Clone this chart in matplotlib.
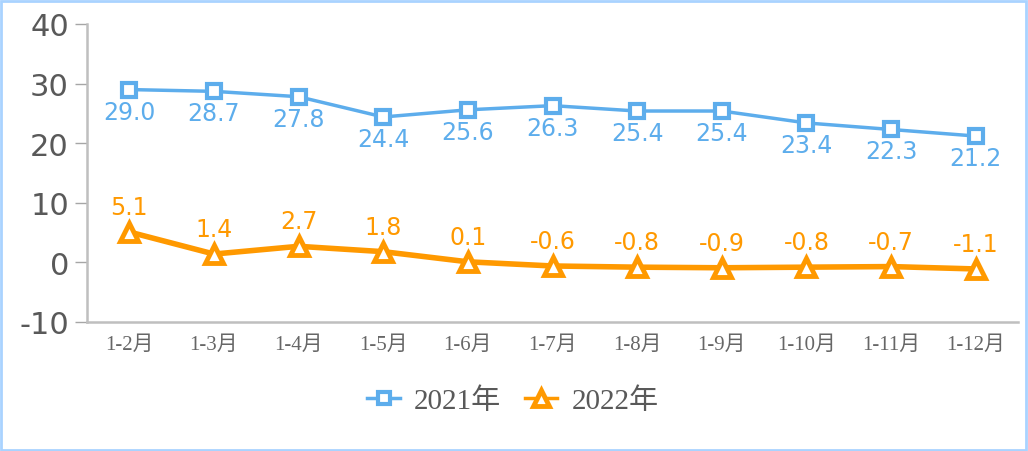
import matplotlib
matplotlib.use("Agg")
import matplotlib.pyplot as plt
from matplotlib.patches import Rectangle

categories = ["1-2月", "1-3月", "1-4月", "1-5月", "1-6月", "1-7月",
              "1-8月", "1-9月", "1-10月", "1-11月", "1-12月"]
s2021 = [29.0, 28.7, 27.8, 24.4, 25.6, 26.3, 25.4, 25.4, 23.4, 22.3, 21.2]
s2022 = [5.1, 1.4, 2.7, 1.8, 0.1, -0.6, -0.8, -0.9, -0.8, -0.7, -1.1]
yticks = [-10, 0, 10, 20, 30, 40]

BLUE = "#5DADEC"
ORANGE = "#FF9900"
GRAY = "#595959"
serif_cjk = ["Liberation Serif", "Noto Sans CJK SC"]

W, H = 1028, 452
fig = plt.figure(figsize=(W / 100, H / 100), dpi=100)
ax = fig.add_axes([87 / W, 1 - 323 / H, (1018 - 87) / W, (323 - 25) / H])

x = list(range(len(categories)))
ax.plot(x, s2021, color=BLUE, lw=2.5, marker="s", ms=10, mfc="white",
        mec=BLUE, mew=3, label="2021年", zorder=3)
ax.plot(x, s2022, color=ORANGE, lw=4, marker="^", ms=13, mfc="white",
        mec=ORANGE, mew=3.5, label="2022年", zorder=3)

for xi, v in zip(x, s2021):
    ax.annotate(f"{v:.1f}", (xi, v), xytext=(0, -22), textcoords="offset pixels",
                ha="center", va="center", color=BLUE, fontsize=17,
                family="DejaVu Sans")
for xi, v in zip(x, s2022):
    ax.annotate(f"{v:.1f}", (xi, v), xytext=(0, 25), textcoords="offset pixels",
                ha="center", va="center", color=ORANGE, fontsize=17,
                family="DejaVu Sans")

ax.set_xlim(-0.5, len(categories) - 0.5)
ax.set_ylim(-10, 40)
ax.set_yticks(yticks)
ax.set_yticklabels([str(t) for t in yticks], fontsize=22, color=GRAY,
                   family="DejaVu Sans")
ax.set_xticks(x)
ax.set_xticklabels(categories, fontsize=15, color="#666666", family=serif_cjk)
ax.tick_params(axis="y", length=9, color="#A6A6A6", width=1, pad=4)
ax.tick_params(axis="x", length=0, pad=9)
for s in ["top", "right"]:
    ax.spines[s].set_visible(False)
for s in ["left", "bottom"]:
    ax.spines[s].set_color("#BFBFBF")
    ax.spines[s].set_linewidth(1.8)

leg = fig.legend(loc="center", bbox_to_anchor=(513 / W, 1 - 402 / H),
                 ncol=2, frameon=False, prop={"family": serif_cjk, "size": 21},
                 handlelength=1.1, columnspacing=0.8, handletextpad=0.5,
                 markerscale=0.85)
for t in leg.get_texts():
    t.set_color(GRAY)
for h in leg.legend_handles:
    h.set_linewidth(2.5)

fig.patches.append(Rectangle((1 / W, 1 / H), (W - 3) / W, (H - 3) / H,
                             transform=fig.transFigure, fill=False,
                             edgecolor="#A9D3FF", lw=2))

fig.savefig("out.png", dpi=100, facecolor="white")
